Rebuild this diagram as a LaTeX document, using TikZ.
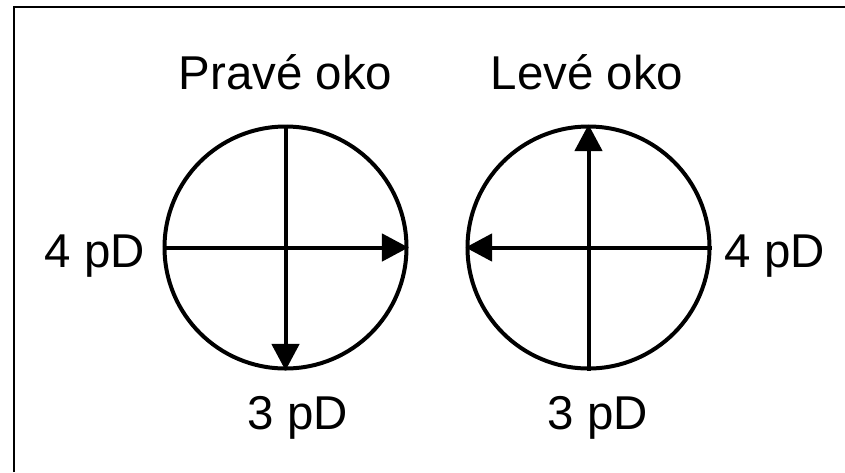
\documentclass[tikz,border=0pt]{standalone}
\usepackage{fontspec}
\setmainfont{Liberation Sans}
\usetikzlibrary{arrows.meta}
\begin{document}
\begin{tikzpicture}[x=0.75pt,y=-0.75pt,
  eye/.style={circle,draw,line width=3pt,minimum size=242*0.75pt,inner sep=0pt},
  lbl/.style={anchor=base,inner sep=0pt,font=\fontsize{35.6}{40}\selectfont},
  axarrow/.style={line width=3pt,-{Triangle[length=20pt,width=20.5pt]}}]
\useasboundingbox (0,0) rectangle (845,472);
\coordinate (bl) at (13.5,472);
\coordinate (tl) at (13.5,6.5);
\coordinate (tr) at (845,6.5);
\draw[line width=1.5pt] (bl) -- (tl) -- (tr);
\node[eye] (R) at (285.5,247.5) {};
\node[eye] (L) at (588.5,247.5) {};
\node[lbl] (tR) at (285.5,89) {Pravé oko};
\node[lbl] (tL) at (587,89) {Levé oko};
\node[lbl] (hR) at (95,267) {4 pD};
\node[lbl] (hL) at (775,267) {4 pD};
\node[lbl] (vR) at (298,429) {3 pD};
\node[lbl] (vL) at (598,429) {3 pD};
\draw[axarrow] (R.west) -- (R.east);
\draw[axarrow] (R.north) -- (R.south);
\draw[axarrow] (L.east) -- (L.west);
\draw[axarrow] (L.south) -- (L.north);
\end{tikzpicture}
\end{document}
